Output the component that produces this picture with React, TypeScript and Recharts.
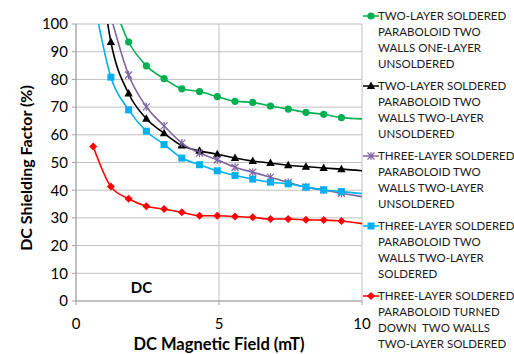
import React from "react";
import {
  LineChart,
  Line,
  XAxis,
  YAxis,
  CartesianGrid,
  Label,
  ReferenceDot,
} from "recharts";

// magnetic field (mT); last point lies past the axis end, the line is clipped there
const X_VALUES = [0.6, 1.22, 1.84, 2.46, 3.08, 3.7, 4.32, 4.94, 5.56, 6.18, 6.8, 7.42, 8.04, 8.66, 9.28, 10.52];

const TWO_ONE_UNSOLD = [null, 110, 93.5, 84.9, 80.3, 76.6, 75.6, 73.8, 72.1, 71.7, 70.4, 69.3, 68.1, 67.4, 66.2, 65.6];
const TWO_TWO_UNSOLD = [140, 93.5, 74.9, 65.8, 60.6, 56.1, 54.2, 53.0, 51.6, 50.5, 49.8, 49.0, 48.5, 48.0, 47.6, 46.6];
const THREE_TWO_UNSOLD = [null, 102.7, 81.6, 70.1, 63.2, 57.0, 53.4, 51.0, 48.3, 46.5, 44.7, 42.8, 41.1, 40.1, 38.9, 36.9];
const THREE_TWO_SOLD = [110, 80.8, 69.0, 61.3, 56.5, 51.6, 49.2, 47.0, 45.3, 44.0, 42.9, 42.3, 41.1, 40.1, 39.5, 38.2];
const THREE_TURNED = [55.8, 41.3, 36.9, 34.2, 33.2, 32.0, 30.8, 30.8, 30.5, 30.2, 29.6, 29.6, 29.3, 29.2, 28.9, 27.0];

const X_TICKS = [0, 5, 10];
const Y_TICKS = [0, 10, 20, 30, 40, 50, 60, 70, 80, 90, 100];

const data = X_VALUES.map((x, i) => ({
  x,
  s1: TWO_ONE_UNSOLD[i],
  s2: TWO_TWO_UNSOLD[i],
  s3: THREE_TWO_UNSOLD[i],
  s4: THREE_TWO_SOLD[i],
  s5: THREE_TURNED[i],
}));

type Shape = "circle" | "triangle" | "star" | "square" | "diamond";

const SERIES: { key: string; color: string; shape: Shape; lines: string[] }[] = [
  {
    key: "s1",
    color: "#00b050",
    shape: "circle",
    lines: ["TWO-LAYER SOLDERED", "PARABOLOID TWO", "WALLS ONE-LAYER", "UNSOLDERED"],
  },
  {
    key: "s2",
    color: "#000000",
    shape: "triangle",
    lines: ["TWO-LAYER SOLDERED", "PARABOLOID TWO", "WALLS TWO-LAYER", "UNSOLDERED"],
  },
  {
    key: "s3",
    color: "#7f64a2",
    shape: "star",
    lines: ["THREE-LAYER SOLDERED", "PARABOLOID TWO", "WALLS TWO-LAYER", "UNSOLDERED"],
  },
  {
    key: "s4",
    color: "#00b0f0",
    shape: "square",
    lines: ["THREE-LAYER SOLDERED", "PARABOLOID TWO", "WALLS TWO-LAYER", "SOLDERED"],
  },
  {
    key: "s5",
    color: "#ff0000",
    shape: "diamond",
    lines: ["THREE-LAYER SOLDERED", "PARABOLOID TURNED", "DOWN  TWO WALLS", "TWO-LAYER SOLDERED"],
  },
];

function marker(shape: Shape, cx: number, cy: number, color: string, key?: any) {
  switch (shape) {
    case "circle":
      return <circle key={key} cx={cx} cy={cy} r={3.6} fill={color} />;
    case "triangle":
      return (
        <polygon
          key={key}
          points={`${cx},${cy - 4.5} ${cx + 4.2},${cy + 3} ${cx - 4.2},${cy + 3}`}
          fill={color}
        />
      );
    case "square":
      return <rect key={key} x={cx - 3.5} y={cy - 3.5} width={7} height={7} fill={color} />;
    case "diamond":
      return (
        <polygon
          key={key}
          points={`${cx},${cy - 4} ${cx + 4},${cy} ${cx},${cy + 4} ${cx - 4},${cy}`}
          fill={color}
        />
      );
    case "star":
      return (
        <g key={key} stroke={color} strokeWidth={1.2}>
          <line x1={cx - 3.5} y1={cy - 3.5} x2={cx + 3.5} y2={cy + 3.5} />
          <line x1={cx - 3.5} y1={cy + 3.5} x2={cx + 3.5} y2={cy - 3.5} />
          <line x1={cx} y1={cy - 4} x2={cx} y2={cy + 4} />
        </g>
      );
  }
}

const makeDot = (shape: Shape, color: string) => (props: any) => {
  const { cx, cy, index, value } = props;
  if (cx == null || cy == null || value == null) return <g key={`d-${index}`} />;
  return marker(shape, cx, cy, color, `d-${index}`);
};

function LegendBox() {
  return (
    <div
      style={{
        position: "absolute",
        left: 362,
        top: 8,
        width: 152,
        fontFamily: "Lato, sans-serif",
        fontSize: 11.5,
        color: "#1a1a1a",
      }}
    >
      {SERIES.map((s) => (
        <div key={s.key} style={{ position: "relative", height: 64, marginBottom: 6 }}>
          <svg width={18} height={16} style={{ position: "absolute", left: 0, top: 0 }}>
            <line x1={1} y1={8} x2={17} y2={8} stroke={s.color} strokeWidth={1.5} />
            {marker(s.shape, 9, 8, s.color)}
          </svg>
          {s.lines.map((t, i) => (
            <div
              key={i}
              style={{
                position: "absolute",
                left: 16,
                top: i * 16,
                height: 16,
                lineHeight: "16px",
                whiteSpace: "pre",
              }}
            >
              {t}
            </div>
          ))}
        </div>
      ))}
    </div>
  );
}

export default function App() {
  return (
    <div
      style={{
        position: "absolute",
        left: 0,
        top: 0,
        width: 514,
        height: 354,
        background: "#fff",
        fontFamily: "Lato, sans-serif",
      }}
    >
      <LineChart width={514} height={354} data={data} margin={{ top: 24, right: 152, bottom: 0, left: 0 }}>
        <CartesianGrid stroke="#c0c0c0" strokeWidth={1} />
        <XAxis
          type="number"
          dataKey="x"
          domain={[0, 10]}
          ticks={X_TICKS}
          allowDataOverflow
          height={53}
          stroke="#a0a0a0"
          tickSize={4}
          tickMargin={13}
          tick={{ fill: "#000", fontSize: 15 }}
        >
          <Label
            value="DC Magnetic Field (mT)"
            position="insideBottom"
            offset={4}
            style={{ fontWeight: 700, fontSize: 16.5, fill: "#000" }}
          />
        </XAxis>
        <YAxis
          type="number"
          domain={[0, 100]}
          ticks={Y_TICKS}
          allowDataOverflow
          width={76}
          stroke="#a0a0a0"
          tickSize={4}
          tickMargin={4}
          tick={{ fill: "#000", fontSize: 15 }}
        >
          <Label
            content={() => (
              <text
                x={25}
                y={168}
                transform="rotate(-90 25 168)"
                textAnchor="middle"
                dominantBaseline="central"
                style={{ fontWeight: 700, fontSize: 16, fill: "#000" }}
              >
                DC Shielding Factor (%)
              </text>
            )}
          />
        </YAxis>
        <ReferenceDot
          x={2.29}
          y={4.7}
          r={0}
          stroke="none"
          fill="none"
          label={{ value: "DC", position: "center", style: { fontWeight: 700, fontSize: 15, fill: "#000" } }}
        />
        {SERIES.map((s) => (
          <Line
            key={s.key}
            dataKey={s.key}
            type="monotone"
            stroke={s.color}
            strokeWidth={1.6}
            dot={makeDot(s.shape, s.color)}
            activeDot={false}
            isAnimationActive={false}
          />
        ))}
      </LineChart>
      <LegendBox />
    </div>
  );
}
